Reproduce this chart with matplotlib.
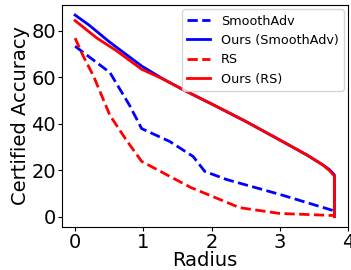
"""
Certified accuracy vs radius
"""

import matplotlib
matplotlib.use("Agg")
import matplotlib.pyplot as plt

# radius / accuracy
smoothadv_r = [0.0, 0.51, 0.80, 0.975, 1.39, 1.73, 1.90, 2.22, 3.0, 3.8]
smoothadv_acc = [73.3, 62.0, 47.8, 37.9, 32.3, 25.9, 19.5, 16.0, 9.6, 2.5]

ours_sa_r = [0.0, 0.2, 0.51, 0.975, 1.29, 1.61, 2.0, 2.5, 3.0, 3.4, 3.63, 3.73, 3.8, 3.8]
ours_sa_acc = [86.7, 82.5, 75.0, 64.8, 59.2, 54.2, 48.5, 41.0, 33.0, 26.5, 22.3, 20.2, 18.0, 0.0]

rs_r = [0.0, 0.12, 0.27, 0.51, 0.75, 0.975, 1.34, 1.7, 2.0, 2.41, 3.0, 3.8]
rs_acc = [76.8, 69.0, 60.5, 43.6, 33.0, 23.8, 18.1, 12.5, 8.9, 3.9, 1.4, 0.5]

ours_rs_r = [0.0, 0.32, 0.6, 0.975, 1.29, 1.61, 2.0, 2.5, 3.0, 3.4, 3.63, 3.73, 3.8, 3.8]
ours_rs_acc = [84.3, 76.8, 71.5, 63.4, 59.2, 54.2, 48.5, 41.0, 33.0, 26.5, 22.3, 19.8, 17.5, 0.0]


def main() -> None:
    fig, ax = plt.subplots(figsize=(3.51, 2.7), dpi=100)
    fig.subplots_adjust(left=0.177, right=0.9915, top=0.9815, bottom=0.16)

    ax.plot(smoothadv_r, smoothadv_acc, 'b--', lw=2, label='SmoothAdv')
    ax.plot(ours_sa_r, ours_sa_acc, 'b-', lw=2, label='Ours (SmoothAdv)')
    ax.plot(rs_r, rs_acc, 'r--', lw=2, label='RS')
    ax.plot(ours_rs_r, ours_rs_acc, 'r-', lw=2, label='Ours (RS)')

    ax.set_xticks([0, 1, 2, 3, 4])
    ax.set_yticks([0, 20, 40, 60, 80])
    ax.tick_params(labelsize=14, length=3, pad=1.5)
    ax.set_xlabel('Radius', fontsize=14, labelpad=-1)
    ax.set_ylabel('Certified Accuracy', fontsize=14, labelpad=1)
    ax.legend(loc='upper right', fontsize=9.2, handlelength=1.8,
              borderaxespad=0.35)

    fig.savefig('out.png')


if __name__ == "__main__":
    main()
